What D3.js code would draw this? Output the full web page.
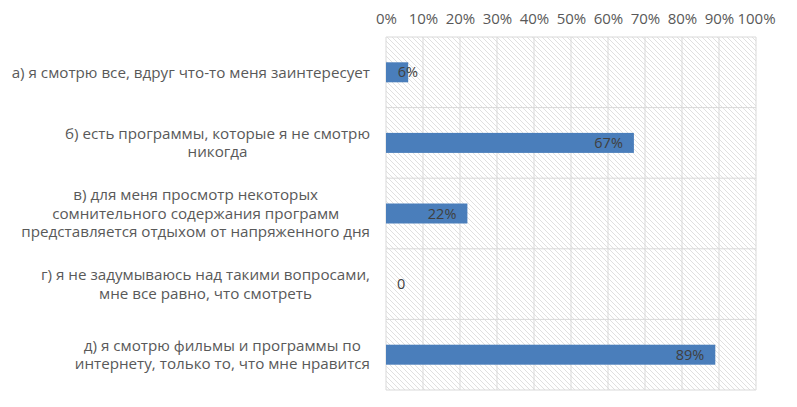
<!DOCTYPE html>
<html>
<head>
<meta charset="utf-8">
<script src="https://cdn.jsdelivr.net/npm/d3@7"></script>
<style>
  html, body { margin: 0; padding: 0; background: #fff; }
  svg { display: block; }
  text { font-family: "Open Sans", "Noto Sans", sans-serif; }
</style>
</head>
<body>
<svg id="chart" width="797" height="407"></svg>
<script>
const categories = [
  "а) я смотрю все,  вдруг что-то меня заинтересует",
  "б) есть программы, которые я не смотрю\nникогда",
  "в) для меня просмотр некоторых\nсомнительного содержания программ\nпредставляется отдыхом от напряженного дня",
  "г) я  не задумываюсь над такими вопросами,\nмне все  равно, что смотреть",
  "д) я  смотрю фильмы и программы по\nинтернету, только то, что мне нравится"
];
const values = [6, 67, 22, 0, 89];
const valueLabels = ["6%", "67%", "22%", "0", "89%"];
const tickValues = [0, 10, 20, 30, 40, 50, 60, 70, 80, 90, 100];

const svg = d3.select("#chart");
const margin = { left: 386, right: 41, top: 37, bottom: 17 };
const W = 797, H = 407;

const x = d3.scaleLinear().domain([0, 100]).range([margin.left, W - margin.right]);
const y = d3.scaleBand().domain(d3.range(categories.length))
  .range([margin.top, H - margin.bottom]).paddingInner(0).paddingOuter(0);

// hatch pattern
const defs = svg.append("defs");
const pat = defs.append("pattern").attr("id", "hatch")
  .attr("patternUnits", "userSpaceOnUse").attr("width", 5).attr("height", 5);
pat.append("rect").attr("width", 5).attr("height", 5).attr("fill", "#fff");
pat.append("path").attr("d", "M0,0 L5,5 M-1,4 L1,6 M4,-1 L6,1")
  .attr("stroke", "#dcdcdc").attr("stroke-width", 0.9);

svg.append("rect")
  .attr("x", x(0)).attr("y", margin.top)
  .attr("width", x(100) - x(0)).attr("height", y.range()[1] - margin.top)
  .attr("fill", "url(#hatch)");

// vertical gridlines
svg.append("g").selectAll("line").data(tickValues).join("line")
  .attr("x1", d => x(d)).attr("x2", d => x(d))
  .attr("y1", margin.top).attr("y2", y.range()[1])
  .attr("stroke", "#d9d9d9").attr("stroke-width", 1);

// horizontal category boundary lines
const bounds = d3.range(categories.length + 1).map(i => margin.top + i * y.step());
svg.append("g").selectAll("line").data(bounds).join("line")
  .attr("x1", x(0)).attr("x2", x(100))
  .attr("y1", d => d).attr("y2", d => d)
  .attr("stroke", "#d9d9d9").attr("stroke-width", 1);

// top axis
const axis = d3.axisTop(x).tickValues(tickValues).tickFormat(d => d + "%").tickSize(0).tickPadding(0);
const gAxis = svg.append("g").attr("transform", `translate(0,${margin.top - 13})`).call(axis);
gAxis.select(".domain").remove();
gAxis.selectAll("text").attr("fill", "#595959").style("font-size", "15px")
  .style("font-family", "'Open Sans', sans-serif");

// bars
const barH = 20;
svg.append("g").selectAll("rect").data(values).join("rect")
  .attr("x", x(0))
  .attr("y", (d, i) => y(i) + y.bandwidth() / 2 - barH / 2)
  .attr("width", d => x(d) - x(0))
  .attr("height", barH)
  .attr("fill", "#4a7ebb");

// value labels
svg.append("g").selectAll("text").data(values).join("text")
  .attr("x", d => d === 0 ? x(0) + 11 : Math.max(x(d) - 11, x(0) + 32))
  .attr("y", (d, i) => y(i) + y.bandwidth() / 2)
  .attr("dy", "0.35em")
  .attr("text-anchor", d => d === 0 ? "start" : "end")
  .attr("fill", "#404040")
  .style("font-size", "14.5px")
  .text((d, i) => valueLabels[i]);

// category labels (centered block, right aligned to axis)
const labelRight = 370;
const lineH = 18.5;
const gLab = svg.append("g");
categories.forEach((c, i) => {
  const lines = c.split("\n");
  const t = gLab.append("text").attr("fill", "#595959").style("font-size", "15.2px");
  lines.forEach((ln, j) => {
    t.append("tspan").text(ln);
  });
  const widths = [];
  t.selectAll("tspan").each(function () { widths.push(this.getComputedTextLength()); });
  const maxW = d3.max(widths);
  const cx = labelRight - maxW / 2;
  const cy = y(i) + y.bandwidth() / 2;
  t.attr("text-anchor", "middle");
  t.selectAll("tspan")
    .attr("x", cx)
    .attr("y", (d, j) => cy + (j - (lines.length - 1) / 2) * lineH)
    .attr("dy", "0.35em");
});
</script>
</body>
</html>
